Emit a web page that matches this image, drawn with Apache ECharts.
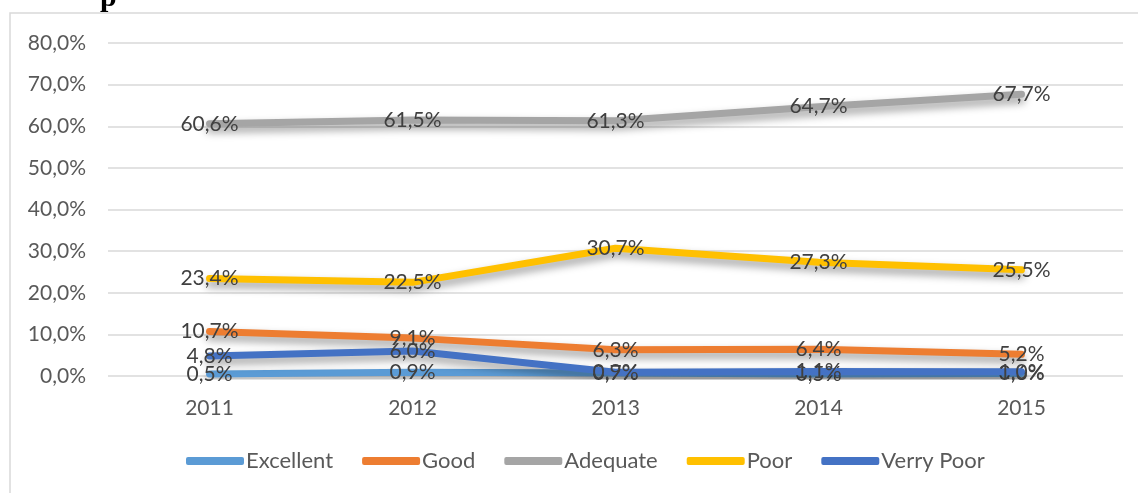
<!DOCTYPE html>
<html>
<head>
<meta charset="utf-8">
<script src="https://cdn.jsdelivr.net/npm/echarts@6/dist/echarts.min.js"></script>
<style>
html,body{margin:0;padding:0;background:#fff;}
#chart{width:1138px;height:493px;}
</style>
</head>
<body>
<div id="chart"></div>
<script>
const categories = ['2011', '2012', '2013', '2014', '2015'];
const excellent = [0.5, 0.9, 0.7, 0.5, 0.6];
const good = [10.7, 9.1, 6.3, 6.4, 5.2];
const adequate = [60.6, 61.5, 61.3, 64.7, 67.7];
const poor = [23.4, 22.5, 30.7, 27.3, 25.5];
const verryPoor = [4.8, 6.0, 0.9, 1.1, 1.0];
const seriesNames = ['Excellent', 'Good', 'Adequate', 'Poor', 'Verry Poor'];
const seriesData = [excellent, good, adequate, poor, verryPoor];
const colors = ['#5B9BD5', '#ED7D31', '#A5A5A5', '#FFC000', '#4472C4'];

const fmt = v => v.toFixed(1).replace('.', ',') + '%';
const FONT = 'Lato';

const chart = echarts.init(document.getElementById('chart'));
chart.setOption({
  animation: false,
  color: colors,
  textStyle: { fontFamily: FONT },
  graphic: [
    { type: 'rect', shape: { x: 10, y: 13, width: 1140, height: 500 }, style: { fill: 'none', stroke: '#d9d9d9', lineWidth: 1.5 }, z: -1 },
    { type: 'text', left: 100, top: -17, style: { text: 'p', font: 'bold 30px "Liberation Serif"', fill: '#000' } }
  ],
  grid: { left: 108, right: 15, top: 43, bottom: 117 },
  legend: {
    data: seriesNames,
    bottom: 16,
    left: 181,
    itemWidth: 58,
    itemHeight: 8,
    itemGap: 29,
    icon: 'roundRect',
    textStyle: { fontFamily: FONT, fontSize: 22, color: '#595959', padding: [0, 0, 0, -3] }
  },
  xAxis: {
    type: 'category',
    data: categories,
    boundaryGap: true,
    axisLine: { show: false },
    axisTick: { show: false },
    axisLabel: { fontFamily: FONT, fontSize: 21, color: '#595959', margin: 22 }
  },
  yAxis: {
    type: 'value',
    min: 0,
    max: 80,
    interval: 10,
    axisLine: { show: false },
    axisTick: { show: false },
    splitLine: { lineStyle: { color: '#d9d9d9', width: 1.5 } },
    axisLabel: { fontFamily: FONT, fontSize: 21, color: '#595959', margin: 22, formatter: v => fmt(v) }
  },
  series: seriesNames.map((name, i) => ({
    name: name,
    type: 'line',
    data: seriesData[i],
    symbol: 'circle',
    symbolSize: 0,
    showSymbol: true,
    lineStyle: {
      width: 7,
      color: colors[i],
      cap: 'round',
      shadowColor: 'rgba(0,0,0,0.4)',
      shadowBlur: 9,
      shadowOffsetY: 5
    },
    label: {
      show: true,
      position: 'inside',
      fontFamily: FONT,
      fontSize: 21,
      color: '#404040',
      formatter: p => fmt(p.value)
    },
    labelLayout: { hideOverlap: false },
    z: 2 + i
  }))
});
</script>
</body>
</html>
